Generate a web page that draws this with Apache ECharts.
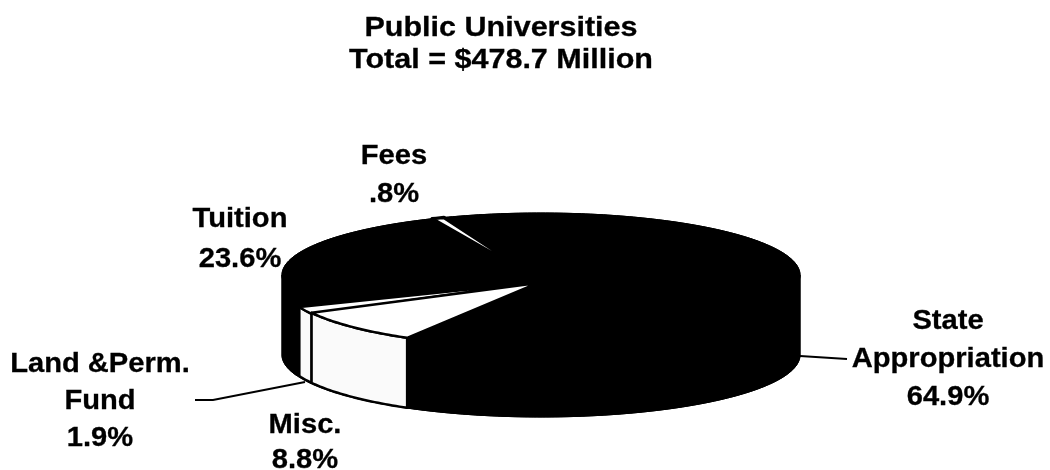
<!DOCTYPE html>
<html><head><meta charset="utf-8">
<style>html,body{margin:0;padding:0;background:#fff}#c{width:1050px;height:470px}</style>
<script src="https://cdn.jsdelivr.net/npm/echarts@6/dist/echarts.min.js"></script>
</head><body><div id="c"></div>
<script>
// Data
var categories = ['State Appropriation', 'Misc.', 'Land &Perm. Fund', 'Tuition', 'Fees'];
var shares = [64.9, 8.8, 1.9, 23.6, 0.8];
var titleLines = ['Public Universities', 'Total = $478.7 Million'];

// Style and layout
var labelLines = [['State', 'Appropriation', '64.9%'], ['Misc.', '8.8%'], ['Land &Perm.', 'Fund', '1.9%'], ['Tuition', '23.6%'], ['Fees', '.8%']];
var labelPos = [[948, 321], [305, 425], [100, 364], [240, 219], [394, 156]];
var lineStep = [38, 35, 37, 40, 38];
var topColor = ['#000', '#fff', '#fff', '#000', '#fff'];
var wallColor = ['#000', '#fafafa', '#fafafa', '#000', '#000'];
var shift = [[0, 0], [2, 10], [2, 11], [0, 0], [0, 0]];
var apexShift = [[0, 0], [-3, 8], [0, 7], [0, 0], [0, 6]];
var depth = [80, 70, 69, 80, 80];
var borderW = [1, 2.5, 2.4, 1, 3.4];
var layer = [1, 4, 3, 1, 2];
var leaders = [[[800, 356], [847, 359]], null, [[195, 400], [213, 400], [305, 382]], null, null];
var CX = 541, CY = 275, RX = 259, RY = 62, START = 338, BODY = 80;
var FONT = 'bold 28px "Liberation Sans", Arial, sans-serif';
var LABEL_STRETCH = 1.04, TITLE_STRETCH = 1.09;

function pt(deg, dy, s) {
  var a = deg * Math.PI / 180;
  return [CX + s[0] + RX * Math.sin(a), CY + s[1] + dy - RY * Math.cos(a)];
}
function arc(from, to, dy, s) {
  var out = [], n = Math.max(2, Math.ceil(Math.abs(to - from)));
  for (var i = 0; i <= n; i++) out.push(pt(from + (to - from) * i / n, dy, s));
  return out;
}
function textEl(str, x, y, stretch) {
  return { type: 'text', x: x, y: y, scaleX: stretch, z2: 20, silent: true,
    style: { text: str, x: 0, y: 0, font: FONT, fill: '#000', stroke: '#000', lineWidth: 0.3,
      align: 'center', verticalAlign: 'middle' } };
}
var total = shares.reduce(function (a, b) { return a + b; }, 0);
var starts = [];
shares.reduce(function (acc, v, i) { starts[i] = acc; return acc + v; }, 0);

function renderItem(params, api) {
  var i = params.dataIndex;
  var a0 = START + api.value(1) / total * 360;
  var a1 = a0 + api.value(0) / total * 360;
  var s = shift[i], kids = [];
  var border = { stroke: '#000', lineWidth: borderW[i], lineJoin: 'round' };
  if (i === 0) {
    // solid black body of the pie beneath the slices
    kids.push({ type: 'polygon', z2: 0,
      shape: { points: arc(270, 450, 0, [0, 0]).concat(arc(90, 270, BODY, [0, 0])) },
      style: { fill: '#000', stroke: '#000', lineWidth: 1 } });
  }
  // visible outer wall: the part of the sweep on the front half of the ellipse
  [0, 360].forEach(function (off) {
    var f = Math.max(a0, 90 + off), t = Math.min(a1, 270 + off);
    if (t > f) {
      kids.push({ type: 'polygon', z2: layer[i] * 2,
        shape: { points: arc(f, t, 0, s).concat(arc(t, f, depth[i], s)) },
        style: Object.assign({ fill: wallColor[i] }, border) });
    }
  });
  // top face
  kids.push({ type: 'polygon', z2: layer[i] * 2 + 1,
    shape: { points: [[CX + apexShift[i][0], CY + apexShift[i][1]]].concat(arc(a0, a1, 0, s)) },
    style: Object.assign({ fill: topColor[i] }, border) });
  if (leaders[i]) {
    kids.push({ type: 'polyline', z2: 12, shape: { points: leaders[i] },
      style: { stroke: '#000', lineWidth: 2, fill: null } });
  }
  labelLines[i].forEach(function (t, k) {
    kids.push(textEl(t, labelPos[i][0], labelPos[i][1] + k * lineStep[i], LABEL_STRETCH));
  });
  return { type: 'group', children: kids };
}

var chart = echarts.init(document.getElementById('c'), null, { renderer: 'canvas' });
chart.setOption({
  animation: false,
  backgroundColor: '#fff',
  series: [{
    type: 'custom',
    coordinateSystem: 'none',
    renderItem: renderItem,
    data: shares.map(function (v, i) { return { name: categories[i], value: [v, starts[i]] }; })
  }, {
    type: 'custom',
    coordinateSystem: 'none',
    renderItem: function (p) {
      return textEl(titleLines[p.dataIndex], 501, 28 + p.dataIndex * 32, TITLE_STRETCH);
    },
    data: titleLines.map(function (t, i) { return [i]; })
  }]
});
</script></body></html>
